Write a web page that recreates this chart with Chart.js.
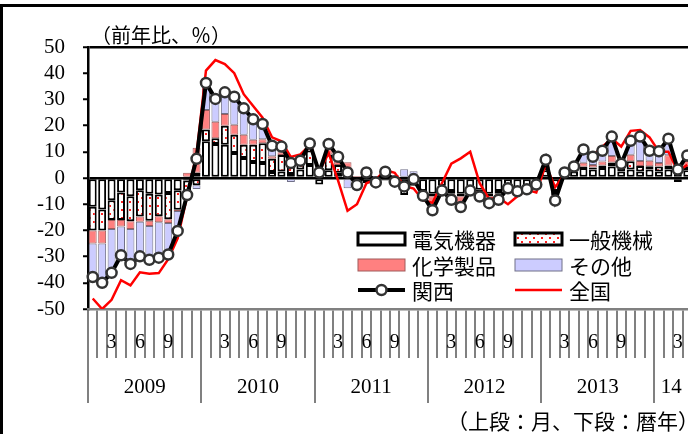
<!DOCTYPE html>
<html>
<head>
<meta charset="utf-8">
<script src="https://cdn.jsdelivr.net/npm/chart.js@4.4.1/dist/chart.umd.min.js"></script>
<style>
  html, body { margin: 0; padding: 0; background: #fff; overflow: hidden; width: 688px; height: 434px; }
  #wrap { position: relative; width: 700px; height: 434px; }
  #frame { position: absolute; left: 0; top: 4px; width: 720px; height: 440px; border-top: 3px solid #000; border-left: 3px solid #000; box-sizing: border-box; }
  .txt { position: absolute; font-family: "Noto Sans CJK JP"; color: #000; white-space: nowrap; line-height: 1; }
</style>
</head>
<body>
<div id="wrap">
  <canvas id="c" width="700" height="434"></canvas>
  <div id="frame"></div>
  <div class="txt" style="left:91px; top:25px; font-size:20px;">（前年比、％）</div>
  <div class="txt" style="right:1px; top:410px; font-size:21px;">（上段：月、下段：暦年）</div>
</div>
<script>
// months Jan 2009 .. Apr 2014
const years = ['2009', '2010', '2011', '2012', '2013', '2014'];
const months = [];
years.forEach(y => { for (let m = 1; m <= 12; m++) months.push(y + '/' + m); });
months.length = 64;

const monthTicks = ['', '', '3', '', '', '6', '', '', '9', '', '', ''];
const yearLabels = ['2009', '2010', '2011', '2012', '2013', '14'];
const yearLabelAt = [6, 18, 30, 42, 54, 61.8];
const yearLines = [0, 12, 24, 36, 48, 60];

// contributions (percentage points)
const denki = [
  -11, -12, -8.5, -5.5, -7, -4.7, -6, -6.3, -5.7, -4.7, -1, 2,
  14, 13, 12.7, 9.5, 7.6, 6.1, 5.7, 2.3, 2.5, 1.5, 3.2, 5,
  -2.5, 3, 2, 1, -3.5, -2, -2.5, -1, -2.5, -6.5, -3, -5,
  -6, -3, -5, -6, -4, -4.5, -6, -5, -3, -4, -3.5, -2,
  3, -5, 1, 2.5, 3.8, 3.2, 3.8, 4.4, 2.5, 3.2, 2.5, 3.2,
  2.5, 3.2, -1.5, 3
];
const ippan = [
  -9, -8, -7.5, -10.5, -9.5, -10, -10.3, -8.3, -10, -7.4, -4.5, -2.8,
  4.5, 2.2, 7.2, 7, 5.1, 6.6, 7.6, 5, 6.3, 3.5, 2.5, 5.5,
  3, 6, 3, 0.5, 0.5, 0.5, 0, 0.3, 0.3, 0, 0.5, 0,
  -1, -0.5, -1, -1, -0.3, -0.5, -1, -1, -0.3, -0.5, -0.3, -0.2,
  1.5, -1.5, 0.5, 0.8, 0.5, 0.8, 1, 1.5, 1.2, 3.2, 2.1, 1.3,
  1.9, 1.5, 2, 1.5
];
const kagaku = [
  -5, -5, -3.5, -2.5, -3, -2, -2, -2.3, -1.5, -0.5, 2, 9.5,
  7.5, 6.3, 4.5, 3.8, 3.8, 1.9, 1.5, 1, 1, 2.2, 0.5, 1,
  1, 2, 2, 4.5, 0.3, 0.5, 0.3, 0.5, 0.3, 0, 0.3, -1,
  -3, -0.5, -1.5, -3, -0.3, -1.5, -1, -1, -0.3, -0.3, -0.3, -0.2,
  1, -1, 0.3, 0.5, 1.5, 1, 1.5, 2.5, 0.8, 2.5, 1.9, 2.1,
  1.3, 4, 1.5, 2
];
const sonota = [
  -12.8, -15, -16.7, -11, -13.3, -13.2, -12.9, -13.5, -12, -7.6, -3, -1.4,
  10.3, 8.7, 8.3, 10.7, 10.1, 7.8, 5.8, 4, 2.2, -1.5, 0.4, 1.7,
  0.6, 2, 1.1, -3.9, 0, 3.1, 0.5, 2.6, 0.5, 3.3, 1.8, -0.8,
  -2.3, -0.8, -0.8, -1.1, -0.2, -0.6, -1.6, -1.3, -0.3, -0.3, -0.2, -0.1,
  1.5, -1.1, 0.3, 0.6, 5.1, 3.1, 4.1, 7.4, 0.9, 5.3, 9.3, 3.8,
  4.5, 6.3, 1.2, 2.1
];
const kansai = [
  -37.8, -40, -36.2, -29.5, -32.8, -29.9, -31.2, -30.4, -29.2, -20.2, -6.5, 7.3,
  36.3, 30.2, 32.7, 31, 26.6, 22.4, 20.6, 12.3, 12, 5.7, 6.6, 13.2,
  2.1, 13, 8.1, 2.1, -2.7, 2.1, -1.7, 2.4, -1.4, -3.2, -0.4, -6.8,
  -12.3, -4.8, -8.3, -11.1, -4.8, -7.1, -9.6, -8.3, -3.9, -5.1, -4.3, -2.5,
  7, -8.6, 2.1, 4.4, 10.9, 8.1, 10.4, 15.8, 5.4, 14.2, 15.8, 10.4,
  10.2, 15, 3.2, 8.6
];
const zenkoku = [
  -46, -50, -46.5, -39, -41, -36, -36.5, -36.3, -31, -23, -7, 9,
  41, 45, 43.5, 40, 32, 27.5, 23, 15.5, 14, 8, 9, 12.5,
  2.5, 9.5, -1, -12.5, -10, -2, -0.5, 3, 2, -3, -4, -8.5,
  -9.5, -2, 5.5, 7.5, 10, -2, -8, -7.5, -10, -7, -4.5, -5.5,
  5, -3.5, 1.5, 4.5, 10.5, 8.5, 12, 15, 12, 18, 18.3, 15.5,
  10, 10, 2.5, 5
];

const canvas = document.getElementById('c');
const ctx = canvas.getContext('2d');

function dotPattern() {
  const p = document.createElement('canvas');
  p.width = 8; p.height = 8;
  const g = p.getContext('2d');
  g.fillStyle = '#fff';
  g.fillRect(0, 0, 8, 8);
  g.fillStyle = '#ff2020';
  g.fillRect(1, 1, 2, 2);
  g.fillRect(5, 5, 2, 2);
  return ctx.createPattern(p, 'repeat');
}
const dots = dotPattern();

const SERIF = 'Liberation Serif';
const CJK = 'Noto Sans CJK JP';

// legend drawn inside the plot area
const boxLegend = {
  id: 'boxLegend',
  afterDraw(chart) {
    const c = chart.ctx;
    const cols = [358, 515];
    const rows = [239, 265, 290];
    const items = [
      { t: '電気機器', fill: '#fff', stroke: '#000', lw: 3 },
      { t: '一般機械', fill: dots, stroke: '#000', lw: 3 },
      { t: '化学製品', fill: '#ff8080', stroke: '#a05a5a', lw: 1 },
      { t: 'その他', fill: '#ccccff', stroke: '#707088', lw: 1 },
      { t: '関西', line: '#000', lw: 4, marker: true },
      { t: '全国', line: '#ff0000', lw: 2.5 }
    ];
    c.save();
    c.font = '21px "' + CJK + '"';
    c.textBaseline = 'middle';
    items.forEach((it, k) => {
      const x = cols[k % 2], y = rows[Math.floor(k / 2)];
      if (it.line) {
        c.strokeStyle = it.line;
        c.lineWidth = it.lw;
        c.beginPath(); c.moveTo(x, y); c.lineTo(x + 47, y); c.stroke();
        if (it.marker) {
          c.beginPath(); c.arc(x + 23.5, y, 5, 0, Math.PI * 2);
          c.fillStyle = '#fff'; c.fill();
          c.lineWidth = 2.5; c.strokeStyle = '#333'; c.stroke();
        }
      } else {
        c.fillStyle = it.fill;
        c.fillRect(x, y - 6, 47, 12);
        c.lineWidth = it.lw;
        c.strokeStyle = it.stroke;
        c.strokeRect(x, y - 6, 47, 12);
      }
      c.fillStyle = '#000';
      c.fillText(it.t, x + 54, y + 1);
    });
    c.restore();
  }
};

const barCommon = { type: 'bar', stack: 'bars', order: 2, barPercentage: 0.84, categoryPercentage: 1, borderSkipped: false };

new Chart(canvas, {
  data: {
    labels: months,
    datasets: [
      { ...barCommon, label: '電気機器', data: denki, backgroundColor: '#fff', borderColor: '#000', borderWidth: 2 },
      { ...barCommon, label: '一般機械', data: ippan, backgroundColor: dots, borderColor: '#000', borderWidth: 2 },
      { ...barCommon, label: '化学製品', data: kagaku, backgroundColor: '#ff8080', borderColor: '#a05a5a', borderWidth: 1 },
      { ...barCommon, label: 'その他', data: sonota, backgroundColor: '#ccccff', borderColor: '#707088', borderWidth: 1 },
      {
        type: 'line', label: '全国', data: zenkoku, stack: 'zenkoku', order: 1,
        borderColor: '#ff0000', borderWidth: 2.5, pointRadius: 0, tension: 0, fill: false
      },
      {
        type: 'line', label: '関西', data: kansai, stack: 'kansai', order: 0,
        borderColor: '#000', borderWidth: 4, tension: 0, fill: false,
        pointRadius: 5, pointBackgroundColor: '#fff', pointBorderColor: '#333', pointBorderWidth: 2.5
      }
    ]
  },
  options: {
    responsive: false,
    animation: false,
    devicePixelRatio: 1,
    layout: { padding: { top: 47, right: 8, left: 0, bottom: 0 } },
    plugins: { legend: { display: false }, tooltip: { enabled: false } },
    scales: {
      y: {
        stacked: true,
        min: -50, max: 50,
        afterFit(s) { s.width = 88; },
        border: { color: '#000', width: 2.5 },
        grid: {
          color: c => (c.tick && (c.tick.value === 0 || c.tick.value === 50)) ? '#000' : 'rgba(0,0,0,0)',
          lineWidth: 2.5,
          tickColor: '#000',
          tickWidth: 2,
          tickLength: 5,
        },
        ticks: { stepSize: 10, autoSkip: false, color: '#000', padding: 18, font: { family: SERIF, size: 21 } }
      },
      x: {
        stacked: true,
        offset: true,
        weight: 0,
        afterFit(s) { s.height = 42; },
        border: { color: '#808080', width: 2.5 },
        grid: { offset: true, drawOnChartArea: false, color: '#808080', lineWidth: 2, tickLength: 49 },
        ticks: {
          autoSkip: false, maxRotation: 0, minRotation: 0, padding: -27,
          color: '#000', font: { family: SERIF, size: 20 },
          callback: (v, i) => monthTicks[i % 12]
        }
      },
      x2: {
        type: 'linear',
        position: 'bottom',
        weight: 1,
        min: 0, max: 64,
        afterFit(s) { s.height = 83; },
        afterBuildTicks(s) {
          s.ticks = yearLines.concat(yearLabelAt).sort((a, b) => a - b).map(v => ({ value: v }));
        },
        border: { display: false },
        grid: {
          drawOnChartArea: false,
          color: c => (c.tick && yearLines.includes(c.tick.value)) ? '#808080' : 'rgba(0,0,0,0)',
          lineWidth: 2,
          tickLength: 52
        },
        ticks: {
          autoSkip: false, maxRotation: 0, minRotation: 0, padding: -28,
          color: '#000', font: { family: SERIF, size: 21 },
          callback: v => {
            const k = yearLabelAt.indexOf(v);
            return k >= 0 ? yearLabels[k] : '';
          }
        }
      }
    }
  },
  plugins: [boxLegend]
});
</script>
</body>
</html>
